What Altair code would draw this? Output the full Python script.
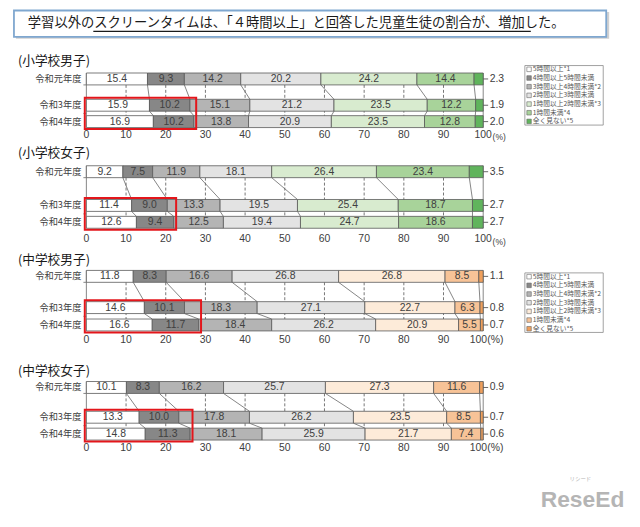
import altair as alt
import pandas as pd

# ---------------- data ----------------
segments = ["5時間以上*1", "4時間以上5時間未満", "3時間以上4時間未満*2",
            "2時間以上3時間未満", "1時間以上2時間未満*3", "1時間未満*4", "全く見ない*5"]
years = ["令和元年度", "令和3年度", "令和4年度"]
groups = ["(小学校男子)", "(小学校女子)", "(中学校男子)", "(中学校女子)"]

es_boys_r1 = [15.4, 9.3, 14.2, 20.2, 24.2, 14.4, 2.3]
es_boys_r3 = [15.9, 10.2, 15.1, 21.2, 23.5, 12.2, 1.9]
es_boys_r4 = [16.9, 10.2, 13.8, 20.9, 23.5, 12.8, 2.0]
es_girls_r1 = [9.2, 7.5, 11.9, 18.1, 26.4, 23.4, 3.5]
es_girls_r3 = [11.4, 9.0, 13.3, 19.5, 25.4, 18.7, 2.7]
es_girls_r4 = [12.6, 9.4, 12.5, 19.4, 24.7, 18.6, 2.7]
jh_boys_r1 = [11.8, 8.3, 16.6, 26.8, 26.8, 8.5, 1.1]
jh_boys_r3 = [14.6, 10.1, 18.3, 27.1, 22.7, 6.3, 0.8]
jh_boys_r4 = [16.6, 11.7, 18.4, 26.2, 20.9, 5.5, 0.7]
jh_girls_r1 = [10.1, 8.3, 16.2, 25.7, 27.3, 11.6, 0.9]
jh_girls_r3 = [13.3, 10.0, 17.8, 26.2, 23.5, 8.5, 0.7]
jh_girls_r4 = [14.8, 11.3, 18.1, 25.9, 21.7, 7.4, 0.6]

x_ticks = [0, 10, 20, 30, 40, 50, 60, 70, 80, 90, 100]
headline = "学習以外のスクリーンタイムは、「４時間以上」と回答した児童生徒の割合が、増加した。"

panel_values = [
    [es_boys_r1, es_boys_r3, es_boys_r4],
    [es_girls_r1, es_girls_r3, es_girls_r4],
    [jh_boys_r1, jh_boys_r3, jh_boys_r4],
    [jh_girls_r1, jh_girls_r3, jh_girls_r4],
]

# ---------------- styles / layout ----------------
gray_part = ["#ffffff", "#878787", "#b4b4b4", "#e3e3e3"]
es_palette = gray_part + ["#d8ebcf", "#a8d39a", "#60b45c"]
jh_palette = gray_part + ["#fdebd9", "#f7c397", "#f0a05c"]
palettes = [es_palette, es_palette, jh_palette, jh_palette]

row_tops = [[71.5, 98, 114.5], [165, 199, 216], [270.5, 302, 319.5], [382.5, 412.5, 429.5]]
BAR_H = 12
title_ys = [59.5, 152.5, 260, 372]
tick_ys = [134, 239, 341, 450]
legend_tops = {0: 64, 2: 273}

NUM_FONT = "Liberation Sans"
JP_FONT = "Noto Sans CJK JP"
TXT = "#404040"


def dx(p):
    """page x pixel -> data x"""
    return (p - 87) / 4.0


xs = alt.Scale(domain=[0, 100], nice=False, zero=False)
ys = alt.Scale(domain=[8, 513], reverse=True, nice=False, zero=False)


def X(f):
    return alt.X(f"{f}:Q", scale=xs, axis=None)


def Y(f):
    return alt.Y(f"{f}:Q", scale=ys, axis=None)


# ---------------- build tables ----------------
bars, conns, grids, axes_l, rticks, rlabels, ticklabels, pct = [], [], [], [], [], [], [], []
rowlabels, titles, redboxes = [], [], []
for g, vals_list in enumerate(panel_values):
    pal = palettes[g]
    bounds = []
    for r, vals in enumerate(vals_list):
        total = sum(vals)
        cum = 0.0
        top = row_tops[g][r]
        bot = top + BAR_H
        b = [0.0]
        for s, v in enumerate(vals):
            x0 = cum / total * 100
            cum += v
            x1 = cum / total * 100
            b.append(x1)
            bars.append(dict(x=x0, x2=x1, y=top, y2=bot, color=pal[s],
                             label=f"{v:.1f}" if s < 6 else "", lx=(x0 + x1) / 2, ly=(top + bot) / 2))
        bounds.append(b)
        yc = (top + bot) / 2
        rticks.append(dict(x=100, x2=dx(492), y=yc, y2=yc))
        rlabels.append(dict(x=dx(493.5), y=yc, t=f"{vals[-1]:.1f}"))
        rowlabels.append(dict(x=dx(82), y=yc, t=years[r]))
    # connectors
    for r in (0, 1):
        for s in range(1, 7):
            conns.append(dict(x=bounds[r][s], x2=bounds[r + 1][s],
                              y=row_tops[g][r] + BAR_H, y2=row_tops[g][r + 1]))
    # grid
    for t in x_ticks[1:-1]:
        grids.append(dict(x=t, y=row_tops[g][0] + BAR_H, y2=row_tops[g][2]))
    # axis lines x=0 and x=100
    for xv in (0, 100):
        axes_l.append(dict(x=xv, x2=xv, y=row_tops[g][0], y2=row_tops[g][2] + BAR_H))
    for yv in (row_tops[g][0] + BAR_H, (row_tops[g][1] + BAR_H + row_tops[g][2]) / 2):
        axes_l.append(dict(x=dx(84), x2=0, y=yv, y2=yv))
    # tick labels
    for t in x_ticks:
        xx = t if (t < 100 or g < 2) else t - 1.2
        ticklabels.append(dict(x=xx, y=tick_ys[g], t=str(t)))
    if g < 2:
        pct.append(dict(x=dx(496.5), y=tick_ys[g] + 2.5, t="(%)", fs=8.5))
    else:
        pct.append(dict(x=dx(491), y=tick_ys[g], t="(%)", fs=10.5))
    titles.append(dict(x=dx(18), y=title_ys[g], t=groups[g]))
    # red box around first two segments of 令和3年度 / 令和4年度
    right = max(bounds[1][2], bounds[2][2]) + 0.6
    redboxes.append(dict(x=-0.4, x2=right, y=row_tops[g][1] - 1.5, y2=row_tops[g][2] + BAR_H + 1.5))

# legends
leg_box, leg_sw, leg_tx = [], [], []
for g, top in legend_tops.items():
    pal = palettes[g]
    leg_box.append(dict(x=dx(529), x2=dx(608), y=top, y2=top + 60))
    for i, name in enumerate(segments):
        yc = top + 3.8 + i * 8.75
        leg_sw.append(dict(x=dx(531), x2=dx(535.5), y=yc - 2.3, y2=yc + 2.3, color=pal[i]))
        leg_tx.append(dict(x=dx(537), y=yc, t=name))

bars_df = pd.DataFrame(bars)

# ---------------- layers ----------------
layers = []

# headline box (shadow + box)
layers.append(alt.Chart(pd.DataFrame([dict(x=dx(16), x2=dx(614), y=10, y2=37)])).mark_rect(
    fill="#d0d0d0", stroke=None).encode(x=X("x"), x2="x2", y=Y("y"), y2="y2"))
layers.append(alt.Chart(pd.DataFrame([dict(x=dx(14), x2=dx(611), y=8.5, y2=35)])).mark_rect(
    fill="#ffffff", stroke="#7fa7cf", strokeWidth=1.8).encode(x=X("x"), x2="x2", y=Y("y"), y2="y2"))
layers.append(alt.Chart(pd.DataFrame([dict(x=dx(28), y=21.5, t=headline)])).mark_text(
    font=JP_FONT, fontSize=13.4, align="left", baseline="middle", color="#1a1a1a").encode(
    x=X("x"), y=Y("y"), text="t:N"))
layers.append(alt.Chart(pd.DataFrame([dict(x=dx(94), x2=dx(535), y=29.5, y2=29.5)])).mark_rule(
    color="#1a1a1a", strokeWidth=1.2).encode(x=X("x"), x2="x2", y=Y("y"), y2="y2"))

# grid (dashed)
layers.append(alt.Chart(pd.DataFrame(grids)).mark_rule(
    color="#555555", strokeWidth=0.8, strokeDash=[3, 2]).encode(x=X("x"), y=Y("y"), y2="y2"))
# axis lines
layers.append(alt.Chart(pd.DataFrame(axes_l)).mark_rule(
    color="#777777", strokeWidth=0.9).encode(x=X("x"), x2="x2", y=Y("y"), y2="y2"))
# connectors
layers.append(alt.Chart(pd.DataFrame(conns)).mark_rule(
    color="#666666", strokeWidth=0.8).encode(x=X("x"), x2="x2", y=Y("y"), y2="y2"))
# bars
layers.append(alt.Chart(bars_df).mark_rect(stroke="#5a5a5a", strokeWidth=0.8).encode(
    x=X("x"), x2="x2", y=Y("y"), y2="y2", fill=alt.Fill("color:N", scale=None)))
# bar labels
layers.append(alt.Chart(bars_df).mark_text(
    font=NUM_FONT, fontSize=10.5, color=TXT, baseline="middle").encode(
    x=X("lx"), y=Y("ly"), text="label:N"))
# right ticks and labels
layers.append(alt.Chart(pd.DataFrame(rticks)).mark_rule(color="#555555", strokeWidth=0.9).encode(
    x=X("x"), x2="x2", y=Y("y"), y2="y2"))
layers.append(alt.Chart(pd.DataFrame(rlabels)).mark_text(
    font=NUM_FONT, fontSize=10.5, color=TXT, align="left", baseline="middle").encode(
    x=X("x"), y=Y("y"), text="t:N"))
# row labels
layers.append(alt.Chart(pd.DataFrame(rowlabels)).mark_text(
    font=JP_FONT, fontSize=9.3, color=TXT, align="right", baseline="middle").encode(
    x=X("x"), y=Y("y"), text="t:N"))
# x tick labels
layers.append(alt.Chart(pd.DataFrame(ticklabels)).mark_text(
    font=NUM_FONT, fontSize=10.5, color=TXT, baseline="middle").encode(
    x=X("x"), y=Y("y"), text="t:N"))
layers.append(alt.Chart(pd.DataFrame(pct)).mark_text(
    font=NUM_FONT, color=TXT, align="left", baseline="middle").encode(
    x=X("x"), y=Y("y"), text="t:N", size=alt.Size("fs:Q", scale=None)))
# panel titles
layers.append(alt.Chart(pd.DataFrame(titles)).mark_text(
    font=JP_FONT, fontSize=12.8, color="#1a1a1a", align="left", baseline="middle").encode(
    x=X("x"), y=Y("y"), text="t:N"))
# red boxes
layers.append(alt.Chart(pd.DataFrame(redboxes)).mark_rect(
    fillOpacity=0, stroke="#e3161b", strokeWidth=2).encode(x=X("x"), x2="x2", y=Y("y"), y2="y2"))
# legends
layers.append(alt.Chart(pd.DataFrame(leg_box)).mark_rect(
    fill="#ffffff", stroke="#8a8a8a", strokeWidth=0.8).encode(x=X("x"), x2="x2", y=Y("y"), y2="y2"))
layers.append(alt.Chart(pd.DataFrame(leg_sw)).mark_rect(stroke="#666666", strokeWidth=0.6).encode(
    x=X("x"), x2="x2", y=Y("y"), y2="y2", fill=alt.Fill("color:N", scale=None)))
layers.append(alt.Chart(pd.DataFrame(leg_tx)).mark_text(
    font=JP_FONT, fontSize=6.8, color="#555555", align="left", baseline="middle").encode(
    x=X("x"), y=Y("y"), text="t:N"))
# watermark
layers.append(alt.Chart(pd.DataFrame([dict(x=dx(545), y=509, t="ReseEd")])).mark_text(
    font=NUM_FONT, fontSize=23, fontWeight="bold", color="#b5b5b5", align="left",
    baseline="alphabetic").encode(x=X("x"), y=Y("y"), text="t:N"))
layers.append(alt.Chart(pd.DataFrame([dict(x=dx(574), y=481, t="リシード")])).mark_text(
    font=JP_FONT, fontSize=5.5, color="#b5b5b5", align="left", baseline="middle").encode(
    x=X("x"), y=Y("y"), text="t:N"))

chart = alt.layer(*layers).properties(
    width=400, height=505,
    autosize=alt.AutoSizeParams(type="none"),
    padding={"left": 79, "top": 0, "right": 150, "bottom": 0},
).configure_view(stroke=None)

chart.save("out.html", embed_options={"renderer": "svg", "actions": False})
